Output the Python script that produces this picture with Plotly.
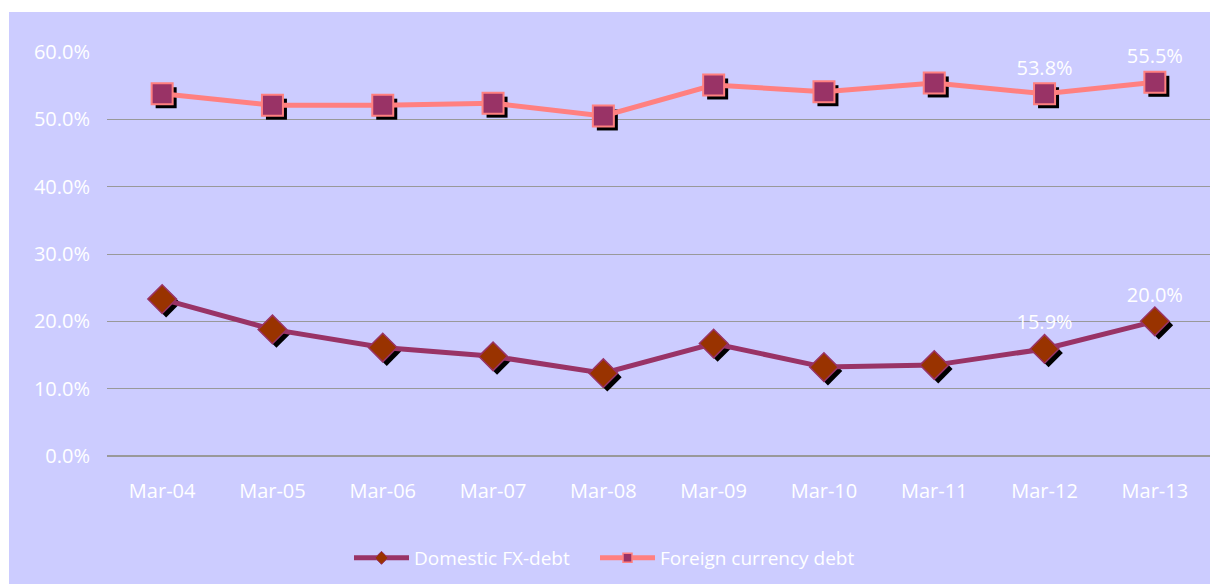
import plotly.graph_objects as go

categories = ["Mar-04", "Mar-05", "Mar-06", "Mar-07", "Mar-08",
              "Mar-09", "Mar-10", "Mar-11", "Mar-12", "Mar-13"]
domestic_fx = [23.3, 18.8, 16.1, 14.8, 12.3, 16.7, 13.2, 13.5, 15.9, 20.0]
foreign_cur = [53.8, 52.1, 52.1, 52.4, 50.5, 55.1, 54.1, 55.4, 53.8, 55.5]
y_ticks = [0, 10, 20, 30, 40, 50, 60]
labeled_idx = [8, 9]

W, H = 1210, 576
L, R, T, B = 99, 8, 44, 127
pw, ph = W - L - R, H - T - B
YMAX = 60.0
sh_x, sh_y = 4, 4
dx = sh_x * len(categories) / pw
dy = sh_y * YMAX / ph

FONT = "Open Sans"
FS = 20
LFS = 19

DOM_LINE, DOM_FILL = "#993366", "#993300"
FOR_LINE, FOR_FILL = "#FF8080", "#993366"

def labels(vals):
    return [f"{v:.1f}%" if i in labeled_idx else "" for i, v in enumerate(vals)]

fig = go.Figure()

# shadows (base axes, shifted by a few pixels)
fig.add_trace(go.Scatter(x=categories, y=domestic_fx, mode="markers",
                         marker=dict(symbol="diamond", size=22, color="black"),
                         showlegend=False, hoverinfo="skip", xaxis="x", yaxis="y"))
fig.add_trace(go.Scatter(x=categories, y=foreign_cur, mode="markers",
                         marker=dict(symbol="square", size=21, color="black"),
                         showlegend=False, hoverinfo="skip", xaxis="x", yaxis="y"))

# main series
fig.add_trace(go.Scatter(x=categories, y=domestic_fx, mode="lines+markers+text",
                         name="Domestic FX-debt", showlegend=False,
                         line=dict(color=DOM_LINE, width=5),
                         marker=dict(symbol="diamond", size=22, color=DOM_FILL,
                                     line=dict(color=DOM_LINE, width=1.5)),
                         text=labels(domestic_fx), textposition="top center",
                         textfont=dict(color="white", size=FS, family=FONT),
                         cliponaxis=False, xaxis="x2", yaxis="y2"))
fig.add_trace(go.Scatter(x=categories, y=foreign_cur, mode="lines+markers+text",
                         name="Foreign currency debt", showlegend=False,
                         line=dict(color=FOR_LINE, width=5),
                         marker=dict(symbol="square", size=21, color=FOR_FILL,
                                     line=dict(color=FOR_LINE, width=2)),
                         text=labels(foreign_cur), textposition="top center",
                         textfont=dict(color="white", size=FS, family=FONT),
                         cliponaxis=False, xaxis="x2", yaxis="y2"))

# legend entries (small markers like the reference)
fig.add_trace(go.Scatter(x=[None], y=[None], mode="lines+markers",
                         name="Domestic FX-debt", legend="legend",
                         line=dict(color=DOM_LINE, width=5),
                         marker=dict(symbol="diamond", size=10, color=DOM_FILL,
                                     line=dict(color=DOM_LINE, width=1)),
                         xaxis="x2", yaxis="y2"))
fig.add_trace(go.Scatter(x=[None], y=[None], mode="lines+markers",
                         name="Foreign currency debt", legend="legend2",
                         line=dict(color=FOR_LINE, width=5),
                         marker=dict(symbol="square", size=9, color=FOR_FILL,
                                     line=dict(color=FOR_LINE, width=1.5)),
                         xaxis="x2", yaxis="y2"))

legend_common = dict(orientation="h", xanchor="left",
                     y=-(558 - 457) / ph, yanchor="middle",
                     bgcolor="rgba(0,0,0,0)", itemwidth=55,
                     font=dict(color="white", size=LFS, family=FONT))

bg = "#CCCCFF"
fig.update_layout(
    width=W, height=H,
    margin=dict(l=L, r=R, t=T, b=B, pad=0),
    paper_bgcolor="white", plot_bgcolor="rgba(0,0,0,0)",
    font=dict(family=FONT, size=FS, color="white"),
    shapes=[dict(type="rect", xref="paper", yref="paper",
                 x0=(1 - L) / pw, x1=1 + R / pw + 0.01,
                 y0=-B / ph - 0.01, y1=1 + (T - 4) / ph,
                 fillcolor=bg, line=dict(width=0), layer="below")],
    xaxis=dict(type="category", categoryarray=categories,
               range=[-0.5 - dx, len(categories) - 0.5 - dx],
               visible=False, fixedrange=True),
    yaxis=dict(range=[dy, YMAX + dy], visible=False, fixedrange=True),
    xaxis2=dict(type="category", categoryarray=categories, overlaying="x",
                range=[-0.5, len(categories) - 0.5],
                showgrid=False, showline=False, ticks="",
                tickfont=dict(color="white", size=FS, family=FONT),
                ticklabelstandoff=21),
    yaxis2=dict(overlaying="y", range=[0, YMAX], tickvals=y_ticks,
                ticktext=[f"{v:.1f}%" for v in y_ticks],
                showgrid=True, gridcolor="#999999", gridwidth=1,
                zeroline=True, zerolinecolor="#999999", zerolinewidth=1.5,
                showline=False, ticks="",
                tickfont=dict(color="white", size=FS, family=FONT),
                ticklabelstandoff=16),
    legend=dict(x=(349 - 107) / pw, **legend_common),
    legend2=dict(x=(595 - 107) / pw, **legend_common),
)

fig.write_html("out.html")
